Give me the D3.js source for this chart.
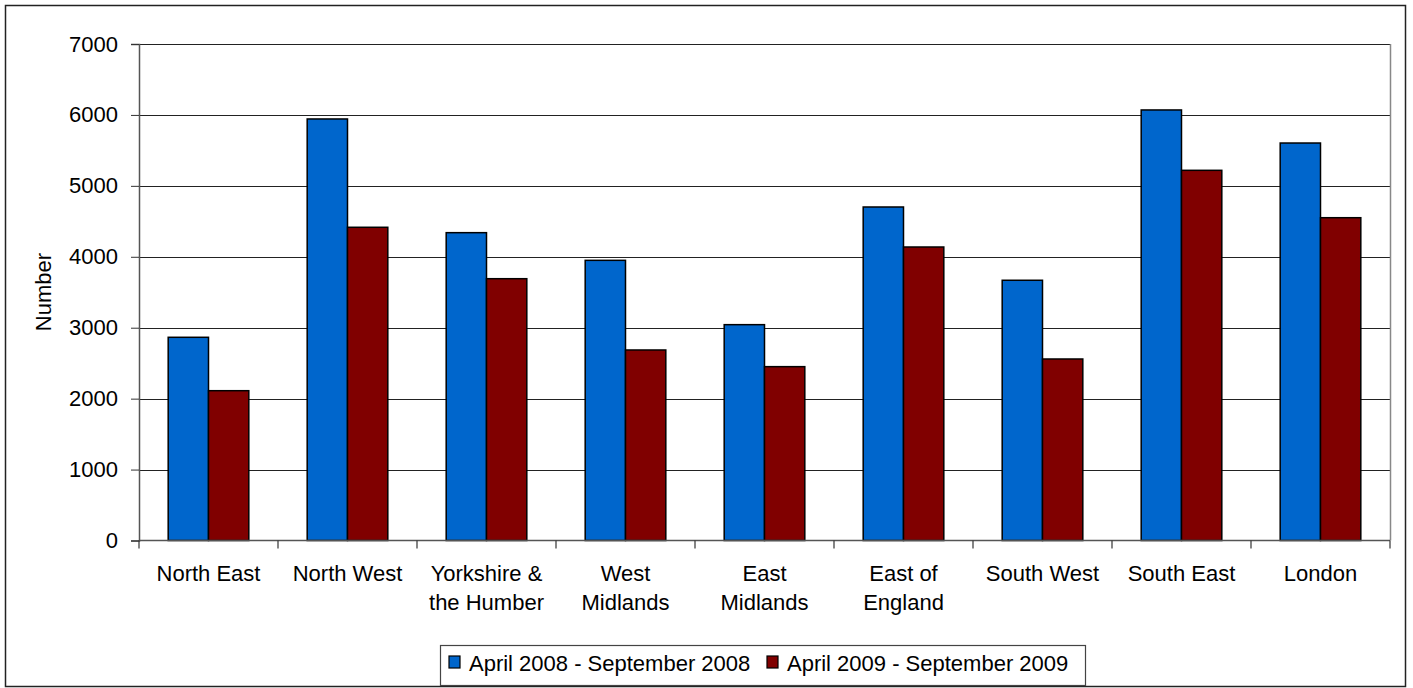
<!DOCTYPE html>
<html>
<head>
<meta charset="utf-8">
<script src="https://cdn.jsdelivr.net/npm/d3@7/dist/d3.min.js"></script>
<style>
  html, body { margin: 0; padding: 0; background: #fff; }
  svg { display: block; font-family: "Liberation Sans", Arial, sans-serif; }
</style>
</head>
<body>
<svg id="chart" width="1413" height="688"></svg>
<script>
const categories = ["North East", "North West", "Yorkshire & the Humber", "West Midlands", "East Midlands", "East of England", "South West", "South East", "London"];
const categoryLines = [["North East"], ["North West"], ["Yorkshire &", "the Humber"], ["West", "Midlands"], ["East", "Midlands"], ["East of", "England"], ["South West"], ["South East"], ["London"]];
const seriesNames = ["April 2008 - September 2008", "April 2009 - September 2009"];
const series2008 = [2865, 5943, 4340, 3950, 3043, 4702, 3669, 6070, 5604];
const series2009 = [2112, 4416, 3691, 2686, 2451, 4138, 2559, 5219, 4551];
const yTicks = [0, 1000, 2000, 3000, 4000, 5000, 6000, 7000];
const colors = ["#0066CC", "#800000"];

(function () {
const svg = d3.select("#chart");
const pLeft = 139, pRight = 1390, pTop = 44, pBottom = 540.5;
const fs = 22;

// outer frame
svg.append("rect").attr("x", 5.5).attr("y", 5.5).attr("width", 1400).attr("height", 681)
  .attr("fill", "#fff").attr("stroke", "#222").attr("stroke-width", 1.5);

const x = d3.scaleBand().domain(categories).range([pLeft, pRight]).paddingInner(0.42).paddingOuter(0.21);
const xs = d3.scaleBand().domain(seriesNames).range([0, x.bandwidth()]);
const y = d3.scaleLinear().domain([0, 7000]).range([pBottom, pTop]);

// gridlines
svg.append("g").selectAll("line").data(yTicks.filter(d => d > 0)).join("line")
  .attr("x1", pLeft).attr("x2", pRight)
  .attr("y1", d => Math.round(y(d)) + 0.5).attr("y2", d => Math.round(y(d)) + 0.5)
  .attr("stroke", "#222").attr("stroke-width", 1);

// right border of plot
svg.append("line").attr("x1", pRight + 0.5).attr("x2", pRight + 0.5).attr("y1", y(7000)).attr("y2", y(0))
  .attr("stroke", "#888").attr("stroke-width", 1.5);

// bars
const data = categories.map((c, i) => ({ cat: c, vals: [series2008[i], series2009[i]] }));
const groups = svg.append("g").selectAll("g").data(data).join("g")
  .attr("transform", d => `translate(${x(d.cat)},0)`);
groups.selectAll("rect").data(d => d.vals.map((v, j) => ({ v, s: seriesNames[j], j }))).join("rect")
  .attr("x", d => xs(d.s))
  .attr("y", d => y(d.v))
  .attr("width", xs.bandwidth())
  .attr("height", d => y(0) - y(d.v))
  .attr("fill", d => colors[d.j])
  .attr("stroke", "#000").attr("stroke-width", 1.5);

// y axis
const yAxis = svg.append("g").attr("transform", `translate(${pLeft},0)`)
  .call(d3.axisLeft(y).tickValues(yTicks).tickSize(8).tickPadding(13).tickFormat(d3.format("d")));
yAxis.select(".domain").attr("stroke", "#555").attr("stroke-width", 1.5);
yAxis.selectAll(".tick line").attr("stroke", "#333");
yAxis.selectAll(".tick text").attr("font-size", fs).attr("fill", "#000")
  .attr("font-family", "Liberation Sans, Arial, sans-serif");

// x axis line
svg.append("line").attr("x1", pLeft).attr("x2", pRight).attr("y1", pBottom).attr("y2", pBottom)
  .attr("stroke", "#555").attr("stroke-width", 1.5);

// x category boundary ticks
const half = (x.step() - x.bandwidth()) / 2;
const bounds = categories.map(c => x(c) - half).concat([x(categories[categories.length - 1]) + x.bandwidth() + half]);
svg.append("g").selectAll("line").data(bounds).join("line")
  .attr("x1", d => d).attr("x2", d => d).attr("y1", pBottom).attr("y2", pBottom + 8)
  .attr("stroke", "#333").attr("stroke-width", 1.2);

// category labels
const labels = svg.append("g").selectAll("text").data(categories).join("text")
  .attr("x", c => x(c) + x.bandwidth() / 2)
  .attr("y", 581)
  .attr("text-anchor", "middle").attr("font-size", fs).attr("fill", "#000");
labels.selectAll("tspan").data((c, i) => categoryLines[i]).join("tspan")
  .attr("x", function () { return d3.select(this.parentNode).attr("x"); })
  .attr("dy", (d, i) => i === 0 ? 0 : 29)
  .text(d => d);

// y-axis title
svg.append("text").attr("transform", "translate(51,292) rotate(-90)")
  .attr("text-anchor", "middle").attr("font-size", fs).attr("fill", "#000").text("Number");

// legend
const lg = svg.append("g");
lg.append("rect").attr("x", 440.5).attr("y", 645.5).attr("width", 645).attr("height", 40)
  .attr("fill", "#fff").attr("stroke", "#444").attr("stroke-width", 1.2);
const legendX = [449, 767];
seriesNames.forEach((s, i) => {
  lg.append("rect").attr("x", legendX[i]).attr("y", 656).attr("width", 11).attr("height", 12)
    .attr("fill", colors[i]).attr("stroke", "#000").attr("stroke-width", 1.2);
  lg.append("text").attr("x", legendX[i] + 20).attr("y", 671).attr("font-size", fs).attr("fill", "#000").text(s);
});
})();
</script>
</body>
</html>
